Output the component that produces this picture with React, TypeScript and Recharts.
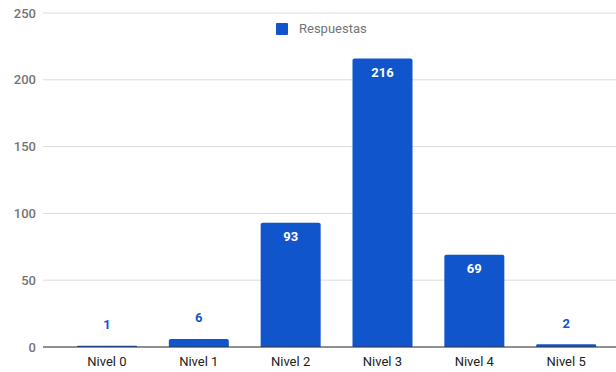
import React from 'react';
import { BarChart, Bar, XAxis, YAxis, CartesianGrid, Legend, LabelList } from 'recharts';

const categories = ['Nivel 0', 'Nivel 1', 'Nivel 2', 'Nivel 3', 'Nivel 4', 'Nivel 5'];
const respuestas = [1, 6, 93, 216, 69, 2];
const yTicks = [0, 50, 100, 150, 200, 250];

const data = categories.map((name, i) => ({ name, respuestas: respuestas[i] }));

const BLUE = '#1155cc';

const ValueLabel = (props: any) => {
  const { x, y, width, height, value } = props;
  const cx = x + width / 2;
  const inside = height > 30;
  return (
    <text
      x={cx}
      y={inside ? y + 14 : y - 21}
      textAnchor="middle"
      dominantBaseline="central"
      fill={inside ? '#ffffff' : BLUE}
      fontSize={13}
      fontWeight={700}
      fontFamily="Roboto, sans-serif"
    >
      {value}
    </text>
  );
};

const LegendBox = () => (
  <div style={{ display: 'flex', alignItems: 'center', fontFamily: 'Roboto, sans-serif' }}>
    <span style={{ width: 12, height: 12, background: BLUE, borderRadius: 1, display: 'inline-block' }} />
    <span style={{ marginLeft: 11, fontSize: 13, color: '#757575' }}>Respuestas</span>
  </div>
);

export default function App() {
  return (
    <div style={{ position: 'absolute', top: 0, left: 0, background: '#fff' }}>
      <BarChart
        width={616}
        height={372}
        data={data}
        margin={{ top: 13, right: 0, bottom: 0, left: 0 }}
      >
        <CartesianGrid vertical={false} stroke="#dcdcdc" />
        <XAxis
          dataKey="name"
          height={25}
          padding={{ left: 18, right: 4 }}
          axisLine={{ stroke: '#333333' }}
          tickLine={false}
          tickMargin={4}
          tick={{ fill: '#222222', fontSize: 13, fontFamily: 'Roboto, sans-serif' }}
        />
        <YAxis
          width={43}
          domain={[0, 250]}
          ticks={yTicks}
          axisLine={false}
          tickLine={false}
          tickSize={5}
          tickMargin={2}
          tick={{ fill: '#757575', fontSize: 13, fontWeight: 500, fontFamily: 'Roboto, sans-serif' }}
        />
        <Legend
          verticalAlign="middle"
          content={<LegendBox />}
          wrapperStyle={{ top: 21, left: 276, width: 'auto' }}
        />
        <Bar dataKey="respuestas" fill={BLUE} barSize={60} radius={[2, 2, 0, 0]} isAnimationActive={false}>
          <LabelList dataKey="respuestas" content={<ValueLabel />} />
        </Bar>
      </BarChart>
    </div>
  );
}
